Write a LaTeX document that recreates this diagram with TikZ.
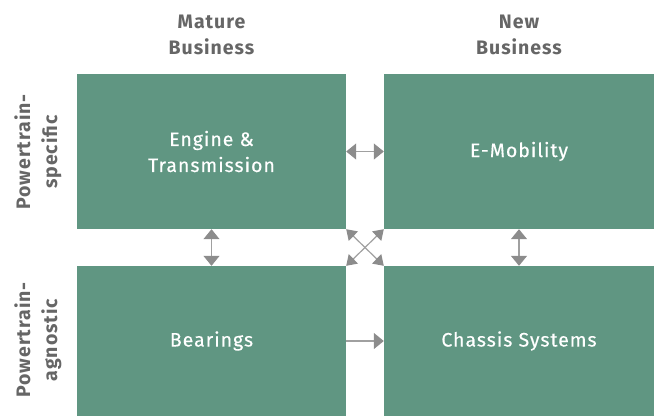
\documentclass[tikz,border=0pt]{standalone}
\usepackage{fontspec}
\setmainfont{Fira Sans}
\newfontfamily\boxfont[LetterSpace=5,FakeBold=0.3]{Fira Sans}
\newfontfamily\labfont[LetterSpace=5]{Fira Sans}
\usetikzlibrary{arrows.meta}
\definecolor{boxgreen}{RGB}{96,150,130}
\definecolor{txtgray}{RGB}{102,102,102}
\definecolor{arrgray}{RGB}{140,140,140}
\definecolor{linegray}{RGB}{160,160,160}
\tikzset{
  quad/.style={fill=boxgreen, draw=none, inner sep=0pt, text=white, align=center,
    font=\boxfont\fontsize{19.5}{26}\selectfont},
  head/.style={text=txtgray, align=center, font=\labfont\bfseries\fontsize{19.5}{26}\selectfont},
  side/.style={text=txtgray, align=center, rotate=90, font=\labfont\bfseries\fontsize{19.5}{27}\selectfont},
  link/.style={draw=linegray, line width=1.2pt,
    {Triangle[length=10pt,width=16pt,color=arrgray]}-{Triangle[length=10pt,width=16pt,color=arrgray]}},
  onelink/.style={draw=linegray, line width=1.2pt, -{Triangle[length=10pt,width=16pt,color=arrgray]}},
  diag/.style={draw=linegray, line width=1.2pt,
    {Triangle[length=10pt,width=13pt,color=arrgray]}-{Triangle[length=10pt,width=13pt,color=arrgray]}}
}
\begin{document}
\begin{tikzpicture}[x=1pt,y=-1pt]
\useasboundingbox (0,0) rectangle (654,416);
\node[quad, minimum width=269pt, minimum height=155pt] (et) at (211.5,151.5) {Engine \&\\Transmission};
\node[quad, minimum width=270pt, minimum height=155pt] (em) at (519,151.5) {E-Mobility};
\node[quad, minimum width=269pt, minimum height=150pt] (be) at (211.5,341) {Bearings};
\node[quad, minimum width=270pt, minimum height=150pt] (cs) at (519,341) {Chassis Systems};
\node[head] (mb) at (211.5,35) {Mature\\Business};
\node[head] (nb) at (519,35) {New\\Business};
\node[side] (ps) at (38,152) {Powertrain-\\specific};
\node[side] (pa) at (38,340) {Powertrain-\\agnostic};
\draw[link] (et.east) -- (em.west);
\draw[link] (et.south) -- (be.north);
\draw[link] (em.south) -- (cs.north);
\draw[onelink] (be.east) -- (cs.west);
\draw[diag] (et.south east) -- (cs.north west);
\draw[diag] (em.south west) -- (be.north east);
\end{tikzpicture}
\end{document}
